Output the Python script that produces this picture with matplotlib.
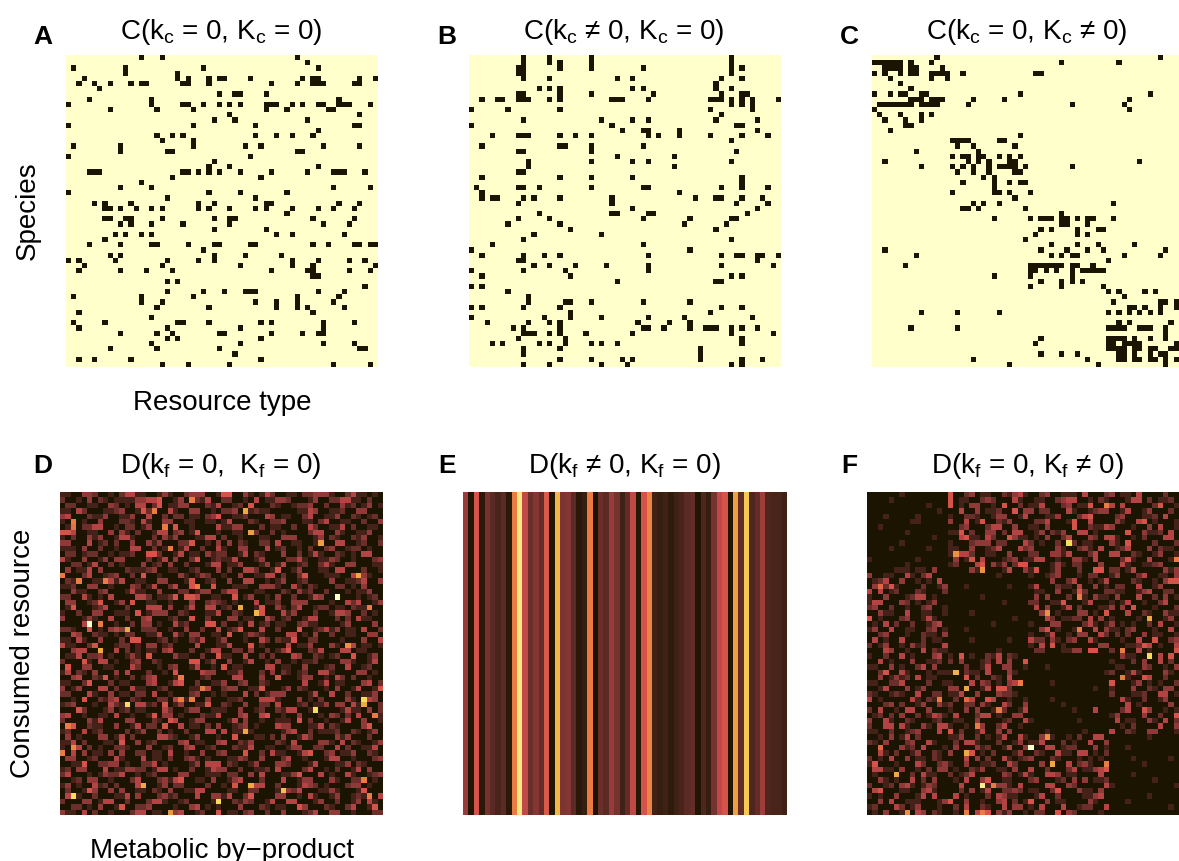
"""Six interaction matrices: binary C panels on top, D panels below."""
import matplotlib
matplotlib.use("Agg")
import matplotlib.pyplot as plt
import numpy as np
from matplotlib.colors import LinearSegmentedColormap, ListedColormap

# occupied columns of each row
A_ROWS = [
    [14, 18, 44], [46], [1, 11, 26, 48], [11, 21],
    [3, 21, 23, 27, 29, 30, 35, 45, 47, 48, 56, 59],
    [2, 5, 8, 12, 14, 15, 22, 23, 27, 39, 44, 47, 48, 49, 55, 56],
    [6], [29, 32, 33, 38], [4, 16, 52],
    [0, 16, 22, 23, 26, 29, 31, 33, 38, 39, 40, 43, 45, 48, 49, 52, 53, 54, 58],
    [8, 17, 24, 38, 42, 50, 51], [31, 56], [28, 32, 46], [0, 24, 36, 55, 56], [48],
    [17, 20, 22, 36, 40, 43, 47], [18, 24], [1, 10, 24, 34, 37, 49, 56],
    [10, 19, 20, 44, 45], [0, 35], [28], [27, 31, 48],
    [4, 5, 6, 22, 23, 25, 27, 29, 33, 39, 46, 51, 52, 53, 57], [20, 37], [14],
    [10, 16, 51, 58], [0, 27, 33, 42], [19, 36],
    [5, 7, 12, 25, 28, 38, 39, 52, 56],
    [7, 8, 10, 13, 16, 18, 25, 27, 31, 36, 38, 43, 48, 51, 55], [42],
    [7, 8, 11, 12, 18, 28, 31, 32, 47, 55], [10, 12, 16, 22, 31, 49, 54], [28, 38],
    [9, 11, 14, 16, 40, 43, 53], [7],
    [4, 10, 16, 17, 23, 28, 29, 35, 36, 47, 50, 55, 56, 58, 59], [26],
    [8, 10, 28, 34, 41], [0, 2, 9, 19, 25, 28, 43, 48, 54, 57],
    [3, 18, 33, 43, 47, 59], [2, 10, 15, 20, 39, 46, 47, 54, 58], [47, 48], [19, 21],
    [57], [19, 26, 30, 34, 35, 36, 48, 53], [1, 14, 24, 44, 52],
    [14, 18, 36, 40, 44, 51], [17, 27, 40, 44, 46, 53], [2, 47], [16],
    [1, 7, 21, 22, 27, 37, 39, 49, 55], [2, 19, 33, 49],
    [10, 17, 20, 29, 30, 39, 45, 48, 49], [19, 21, 37], [16, 33, 49, 55],
    [8, 17, 29, 56, 57], [32], [2, 5, 12, 37], [18, 23, 31, 51, 58],
]
B_ROWS = [
    [10, 15, 23, 50], [10, 15, 17, 23, 50], [9, 10, 17, 23, 33, 50, 52], [9, 10, 50],
    [10, 15, 28, 31, 48, 52], [47], [13, 15, 17, 31, 33, 47, 50],
    [9, 10, 17, 23, 35, 48, 52, 53],
    [2, 5, 6, 9, 10, 11, 15, 17, 27, 28, 29, 34, 46, 47, 48, 50, 52, 54, 59],
    [50, 52, 54], [0, 7, 17, 46, 54], [48], [10, 25, 31, 34, 47, 55], [0, 27, 51, 52],
    [29, 33, 34, 40, 55],
    [4, 9, 10, 11, 17, 20, 23, 34, 36, 40, 46, 52, 57], [50], [2, 17, 18, 23, 33],
    [9, 10, 23, 51], [28, 39], [11, 23, 31, 34, 50], [11, 39], [9, 10],
    [2, 17, 23, 31, 52], [52], [1, 9, 10, 13, 23, 33, 34, 48, 52, 57], [2, 40],
    [2, 4, 5, 10, 12, 17, 27, 43, 47, 48, 52, 56], [9, 27, 51, 57], [31, 55],
    [13, 27, 28, 34, 35, 53], [9, 15, 33, 42, 50, 51], [7, 17, 41, 49], [19, 47],
    [12, 25], [10, 50], [4, 33], [0, 42],
    [2, 10, 14, 17, 34, 48, 51, 52, 55, 56, 59], [9, 10, 55],
    [12, 15, 20, 26, 34, 48, 58], [0, 10, 18, 34], [2, 19, 50, 52], [28, 47, 48],
    [0, 2], [7], [11], [11, 18, 19, 23, 33, 42], [0, 2, 10, 17, 48, 52], [19, 46],
    [0, 14, 19, 25, 34, 41, 54], [3, 11, 15, 17, 32, 38, 42],
    [8, 10, 17, 33, 34, 37, 42, 45, 46, 47, 50, 52, 55],
    [10, 11, 12, 15, 17, 22, 31, 50, 58], [9, 18, 52],
    [4, 6, 13, 15, 18, 23, 25, 28, 52], [10, 17, 44], [10, 44],
    [17, 23, 29, 31, 44, 52, 56], [10, 15, 25, 30, 50, 52],
]
C_ROWS = [
    [12, 55], [0, 1, 2, 3, 4, 5, 7, 11, 36, 47], [2, 3, 4, 5, 7, 8, 13],
    [0, 2, 5, 7, 8, 11, 12, 13, 14, 17, 31, 32], [3, 11, 14], [5], [7],
    [0, 3, 5, 6, 9, 10, 28, 53], [7, 8, 9, 11, 12, 13, 19, 25, 49],
    [1, 2, 3, 4, 5, 6, 7, 9, 10, 11, 12, 18, 38, 48, 59], [0, 49], [1, 5, 9, 11],
    [2, 6, 9], [6, 7], [3], [28], [15, 16, 17, 18, 24, 25], [16, 19, 27], [8, 20],
    [15, 17, 18, 20, 21, 24, 26, 28], [2, 18, 20, 22, 26, 27, 51],
    [9, 15, 17, 19, 22, 24, 25, 26, 27, 29, 38], [16, 19, 22, 27, 28], [21, 23],
    [17, 23, 26, 28, 29], [23], [15, 23, 24, 26, 30], [27], [19, 21, 24, 46],
    [17, 18, 20, 29], [36], [23, 30, 32, 33, 34, 36, 37, 39, 41, 42, 46],
    [36, 37, 41, 59], [32, 34, 39, 43, 44], [31, 39, 41], [29], [34, 39, 43, 50],
    [2, 32, 37, 41, 44, 56], [8, 34, 36, 38, 39, 48, 55], [45],
    [6, 30, 31, 32, 33, 34, 35, 36, 38, 39, 42],
    [30, 31, 33, 35, 38, 40, 41, 42, 43, 44], [23, 30, 38], [32, 36, 38, 40],
    [30, 36, 44], [45, 47, 52, 54, 59], [48], [46, 55, 56, 58],
    [49, 50, 52, 55, 58, 59], [9, 16, 24, 45, 47, 49, 51, 53, 55, 59], [59],
    [47, 49, 57], [7, 16, 45, 46, 47, 48, 51, 52, 53, 56, 59], [56],
    [32, 45, 46, 47, 48, 50, 53, 56], [31, 45, 46, 48, 49, 50, 51, 58],
    [45, 46, 47, 48, 50, 51, 53, 54, 57, 58], [32, 36, 39, 47, 48, 50, 53, 55, 56],
    [19, 41, 47, 48, 50, 51, 53, 54, 56, 58], [26, 43, 56],
]

# level of each cell, 0 (dark) to 9 (pale), estimated by eye; groups of ten
D_ROWS = """
1100332001 0244110013 1002333001 5500310142 0011022333 1002411010
2001030210 1111334450 0130221400 2200104011 3320001300 2244110200
0220011003 2010440250 1133000214 0012050002 1001223002 0031201301
1104200011 2300152000 4100330010 2230012110 0000114300 1120033000
3400021130 0113004002 0220110235 0011200043 0110024001 1300210120
1050100300 0221041003 3001100110 1400021002 2300011024 0011002003
0150224400 1022013002 0500100004 1133000201 1002004200 1140200110
5540011003 0310200144 0230150001 0011022002 0100002440 0310011300
1020031300 1441000203 1300011440 2001000110 0333000130 2100213001
3300040120 2003003130 0022500103 0302100220 4001100130 0440012002
1110300200 1004400201 0014002004 1003300040 1200102002 3001220100
0220122001 0112005520 0140110312 2001402100 0300201410 0210104400
4100300130 3300002014 0300250012 1140001300 0022410011 3200100023
0022014002 0100030120 3002000144 0113000130 1400120024 1003300011
0301140300 0021112300 1100120003 0200442001 5001300011 0440002001
5000240012 3002050010 0031013200 1003001144 0200250001 1100403100
0213001164 1400110033 0001500120 0300440010 1300120000 3001124003
1120033001 0003201400 2400560050 0011100333 1004102100 0220103000
0031100230 0014110030 0022013300 2440001100 0210312002 0001011300
2200410104 0000442011 2505540011 0050130010 3002001430 0200010120
0330012500 1305001100 1000300232 1010004011 2003330000 1004240013
0150001240 0020004440 3001400440 1200001500 3102400122 0110211300
1002003300 1110501333 0021000114 0021002500 0413000200 1443002010
3000131004 0020034000 1200500200 0330110042 0120014400 0202041100
0000430000 1002033010 0412000550 2001040120 1100231100 0013000030
2210050103 4300022200 1003002004 0125000400 2000500124 1301104002
0043002110 1022001140 0410330011 0500132100 0044010300 2001100330
1104100300 0205500012 0100214001 3000100420 2115002200 0010003004
4110025000 1220103301 2000040001 1400050100 0040113000 3100401101
0034400100 4020101103 4000200144 0022030020 1350002140 0044011000
0114022301 0013105000 0311002005 1100400202 0004300210 1200500130
2000510440 1002300210 0000550130 0300140010 3001011200 0033100140
0500330011 0004200010 2300140010 5011000044 0110030001 2004001200
1402103000 3040002001 0500004330 0113000203 0210120044 1000033010
0034002150 1002013400 0140001200 0044000300 5000133001 0420200100
1100250002 0110003400 1450020011 3002300210 0000040014 0110003402
3013000440 2004110012 0000115400 2330011500 0130210001 0300140015
2200041003 0110220400 1000230010 1000402013 3300001400 4002001130
0010500213 4002100022 0441000300 0112000444 1000301020 0003100430
1230001004 2100441205 0130011500 2100300220 4000120113 0330410002
0005200013 0120110004 2001330011 1003001200 2144001200 0014110302
3400100110 4001001503 3010002114 0003400450 0100300010 3202040011
2000031400 0033000210 5400133000 0140300100 1110502001 0014003001
0550021100 3001402205 0040110203 0012301000 4330001140 2100003500
1200401200 0020130020 1002000440 4011210000 0134002011 1200210130
0301000330 1402000044 2100130001 0050001102 0300142000 0313000200
1140200011 0500301200 0034011003 4002130000 2104000033 1040210013
1054020100 2210003001 2003400120 0021140011 0013300220 0402001140
0040301103 0300220110 4001003002 3000500204 1100145002 3011300210
0330012000 4100040110 2002310100 0113200300 0240010001 4400100023
0011500223 3010022401 0000130444 0210013000 3320001400 0113021000
1203300040 1133220144 0100200143 3002001120 4000024001 0200140300
2400010132 2400101200 0033000111 0220030400 0113500040 1004100123
0012033001 0002400023 1450011030 0134000200 0400133000 3100220010
1301004120 2000440013 0220000200 1050014400 2000143201 0002330100
0200153003 0300110210 3001144000 0110022000 1032400011 3100015000
0441002000 1140300023 1200040033 1400250000 3300104100 1300121004
2000330144 0020002441 0012000011 0021320014 0044000130 0200130410
0022010300 1500223000 0100340101 0003000210 1100530002 1002400150
3110402001 0002440110 0340012005 0110230020 0300012400 3300100022
"""

# same scale; groups of fifteen so the dark diagonal blocks stay visible
F_ROWS = """
000000100000000 500230110021341 002300111040002 301104000020050
000010000000000 401100232000410 011002344001021 000144020112001
000000000001000 201033001050020 114000230115000 404000002500100
000000000000010 004003011200503 302200041001233 001400130002004
000100000100000 100221001330014 000113000245000 023000112040010
000000001100000 300401500213000 022400015004000 031004501000124
001000000000000 002300024400300 110300005002114 300010030400103
000000010000000 115020033020440 013021300440100 000500311204000
000000000000100 004511042005311 010300240003204 410010200044000
000000100000000 100023330220004 201002082011000 310500002000230
000010000001000 110030012400042 300003100231040 012400030211005
000000000000000 104420011003000 220033140002400 440021001300150
100000000100000 030150400012301 144001003310400 002510040001003
000000010000000 120004503130255 000013102200030 004100112300041
000001110110300 000031000014003 150013000200550 220140000031303
300110041024000 000000000100000 100123000102200 130002400110340
012400300101040 000000000000000 000030024001014 000021001035510
030251000020013 000100000001000 140002110400301 022004001300055
404012000210002 000000000000000 011003001520002 211001340022002
100300012440100 000000100000000 030300020410311 030004002030101
144000320101300 000000000010000 220011500014000 101400100240004
230020010023001 000000000000000 040300140200011 303050001000212
003110040011001 000010000000000 003001000330105 000400210031140
501000230014100 000000000000100 000420112204030 100001040013001
010402002001340 000000001000000 100033000024101 301010020400105
130040011002301 000100000000000 003501001300403 110230001004011
002300010021103 000000000000000 100140010330042 020200301100140
040100400020110 000010000001000 422031023004100 001004005002300
201300103120004 000000000000000 104050100000033 000112540100401
000430010040211 000000000100000 022000113305500 200004010000544
100200401000340 105010021402100 000000000000000 003110020405003
004010003001120 203000120403005 000000000000000 100020300402000
110030100240300 000200140033001 000100000000000 011000320010342
002500410001011 100211040003100 000000000000001 200141000031002
003013120401100 000502002104000 000000000000000 003100540020011
110022400002001 100040320103400 000010000000000 500013010100210
001400030130000 330000140552000 000000000000100 100030021033002
210012100400220 114003000322100 000000000000000 200011200440100
401000004102100 020040054001001 000010000000000 004100200130021
000230200130031 200220310042003 000000100000000 000401000003040
204001044003000 100303001120014 000000001000400 002400530010101
012020300201431 040002440100330 000000000000000 130000300200555
300410021000120 011003000012004 100000000100000 040110031040200
200440410031044 100100300240010 000000000000000 001020000400300
110020012300040 502001400303000 000100000010000 400210033000120
001030140200000 113002010140041 003110010200440 000000010000000
210300023004100 020441000200130 114000201004003 000000000000000
005000312040001 030003120014003 000440122000301 000100000000010
004102001300210 300050102000130 021004110440102 000000000000000
201040030110210 000403020041012 300021000101010 000010000001000
150001000420023 100300112004200 003010040231000 000000100000000
044110300102033 010021300110300 400200024011345 000000000000000
010003002041100 201240000032014 100443011000040 000010000000000
003101004020300 010400350011000 230001203030112 000000001000000
200120341013200 004000010331040 000440032000004 100000000000100
045000110034100 002030140022320 110025000311030 000000000000000
101003000140400 040100020431100 014002000011340 000000010000000
003040011100013 500300100340201 500301100003100 000100000000000
120004201300010 020400210040330 104000400122004 000000000001000
010300100430210 010004050313001 022005032000010 000000000000000
"""

# isolated bright cells: row, column, level
D_PEAKS = [
    (19, 51, 9), (24, 5, 9), (56, 2, 8), (39, 12, 8), (40, 47, 8), (38, 56, 8),
    (39, 56, 7), (57, 29, 8), (55, 41, 7.5), (22, 36, 7.3), (44, 34, 7), (59, 20, 6.6),
    (54, 15, 7), (54, 35, 7), (15, 55, 7), (28, 53, 6.5), (5, 2, 6), (6, 2, 5.8),
    (3, 34, 7), (7, 35, 6.8), (9, 48, 6.8), (21, 33, 7), (25, 12, 7), (29, 7, 7),
    (17, 25, 6), (24, 7, 6), (21, 57, 6), (38, 22, 6), (38, 24, 6), (34, 22, 6),
    (36, 26, 6), (43, 1, 6), (47, 2, 6.3), (48, 0, 6), (41, 58, 6), (53, 56, 6),
    (56, 57, 6), (15, 0, 6), (16, 3, 6), (10, 20, 6), (3, 17, 6), (1, 24, 6), (6, 19, 6),
]
F_PEAKS = [
    (9, 37, 8), (11, 16, 6.5), (14, 21, 6.5), (2, 44, 6), (19, 39, 6), (22, 33, 6.5),
    (23, 52, 7), (25, 39, 6), (12, 57, 6), (30, 52, 8), (29, 47, 6), (33, 16, 7.2),
    (36, 18, 7), (35, 28, 6), (38, 13, 6), (38, 18, 5.6), (40, 24, 6), (43, 20, 6),
    (45, 33, 6.5), (47, 30, 9), (48, 18, 7), (50, 34, 7), (52, 5, 7), (54, 21, 8.5),
    (54, 23, 6), (59, 7, 6.5), (59, 18, 6), (59, 21, 6), (17, 2, 5.5), (1, 15, 5),
    (2, 15, 5), (50, 44, 6), (34, 47, 6), (47, 2, 5.5),
]

# one level per column: panel E is nearly constant down each column
E_COLS = [
    3.2, 0.2, 5.0, 0.4, 2.3, 1.6, 1.1, 1.6, 0.4, 6.0, 8.3, 4.3, 2.0, 2.7, 1.8,
    5.2, 0.2, 7.3, 2.5, 2.7, 1.6, 0.4, 0.7, 6.0, 0.1, 2.0, 1.6, 3.2, 2.3, 0.9,
    1.8, 4.3, 0.3, 5.0, 6.2, 0.9, 0.7, 0.9, 0.5, 0.9, 1.1, 1.6, 1.8, 0.2, 1.3,
    0.7, 2.3, 4.3, 5.0, 0.2, 6.8, 1.8, 7.6, 1.3, 1.8, 3.4, 1.3, 1.1, 1.1, 0.9,
]

TITLES = [
    "C(k$_{\\mathrm{c}}$ = 0, K$_{\\mathrm{c}}$ = 0)",
    "C(k$_{\\mathrm{c}}$ ≠ 0, K$_{\\mathrm{c}}$ = 0)",
    "C(k$_{\\mathrm{c}}$ = 0, K$_{\\mathrm{c}}$ ≠ 0)",
    "D(k$_{\\mathrm{f}}$ = 0,  K$_{\\mathrm{f}}$ = 0)",
    "D(k$_{\\mathrm{f}}$ ≠ 0, K$_{\\mathrm{f}}$ = 0)",
    "D(k$_{\\mathrm{f}}$ = 0, K$_{\\mathrm{f}}$ ≠ 0)",
]
LETTERS = ["A", "B", "C", "D", "E", "F"]

W, H = 1179, 862
N = 60
CREAM, DARK = "#FFFFCC", "#1A1400"

plt.rcParams["font.family"] = ["Liberation Sans", "DejaVu Sans"]
plt.rcParams["mathtext.fontset"] = "custom"
plt.rcParams["mathtext.rm"] = "Liberation Sans"
plt.rcParams["mathtext.default"] = "regular"

binary = ListedColormap([CREAM, DARK])
heat = LinearSegmentedColormap.from_list("heat", [
    DARK, "#45231A", "#6B302B", "#8F3A39", "#B54545",
    "#D6534A", "#EA7B43", "#F0A842", "#F7DC5C", CREAM])


def sparse(rows):
    m = np.zeros((N, N))
    for r, cols in enumerate(rows):
        m[r, cols] = 1
    return m


def levels(text, peaks):
    rows = [line.replace(" ", "") for line in text.split("\n") if line.strip()]
    m = np.array([[int(ch) for ch in row[:N].ljust(N, "1")] for row in rows[:N]], float)
    for r, c, v in peaks:
        m[r, c] = v
    return m


def px(ax_box):
    x0, y0, x1, y1 = ax_box
    return [x0 / W, 1 - y1 / H, (x1 - x0) / W, (y1 - y0) / H]


fig = plt.figure(figsize=(W / 100, H / 100), dpi=100, facecolor="white")

boxes = [(66, 56, 378, 368), (469, 56, 781, 368), (872, 56, 1184, 368),
         (60, 493, 383, 816), (463, 493, 787, 816), (867, 493, 1190, 816)]
mats = [sparse(A_ROWS), sparse(B_ROWS), sparse(C_ROWS),
        levels(D_ROWS, D_PEAKS), np.tile(E_COLS, (N, 1)), levels(F_ROWS, F_PEAKS)]

for i, (box, m) in enumerate(zip(boxes, mats)):
    ax = fig.add_axes(px(box))
    if i < 3:
        ax.imshow(m, cmap=binary, vmin=0, vmax=1, aspect="auto", interpolation="nearest")
    else:
        ax.imshow(m, cmap=heat, vmin=0, vmax=9, aspect="auto", interpolation="nearest")
    ax.axis("off")

centers = [221, 624, 1027]
for i, (title, letter) in enumerate(zip(TITLES, LETTERS)):
    col, row = i % 3, i // 3
    ty = 32 if row == 0 else 466
    fig.text(centers[col] / W, 1 - ty / H, title, ha="center", va="center", fontsize=20)
    lx = [43, 447, 849][col]
    ly = 37 if row == 0 else 466
    fig.text(lx / W, 1 - ly / H, letter, ha="center", va="center",
             fontsize=19, fontweight="bold")

fig.text(28 / W, 1 - 211 / H, "Species", rotation=90, ha="center", va="center", fontsize=20)
fig.text(222 / W, 1 - 403 / H, "Resource type", ha="center", va="center", fontsize=20)
fig.text(23 / W, 1 - 653 / H, "Consumed resource", rotation=90, ha="center", va="center", fontsize=20)
fig.text(222 / W, 1 - 851 / H, "Metabolic by−product", ha="center", va="center", fontsize=20)

fig.savefig("out.png", dpi=100, facecolor="white")
